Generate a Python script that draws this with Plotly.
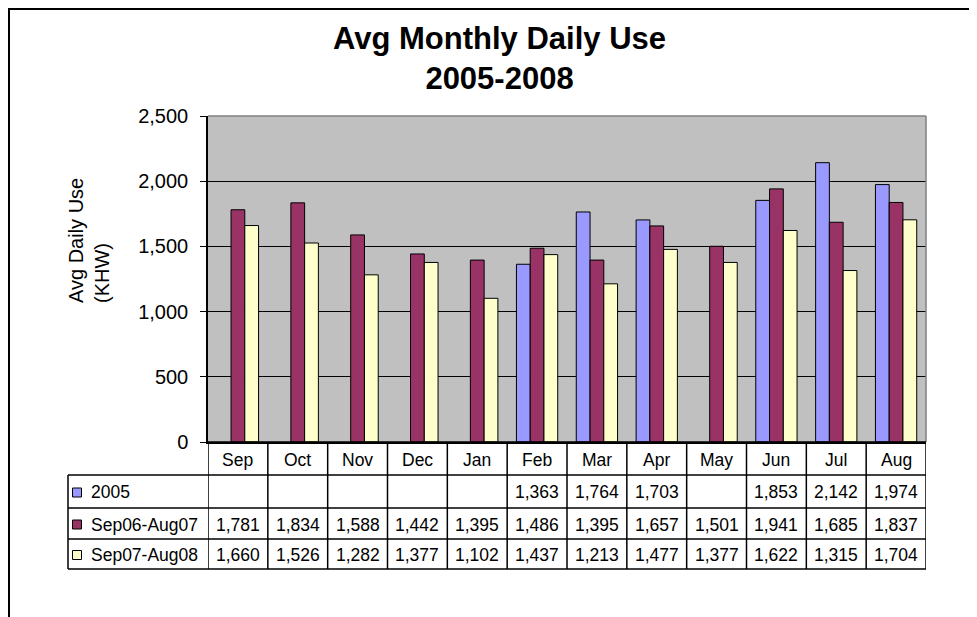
import plotly.graph_objects as go

months = ["Sep", "Oct", "Nov", "Dec", "Jan", "Feb", "Mar", "Apr", "May", "Jun", "Jul", "Aug"]
series_names = ["2005", "Sep06-Aug07", "Sep07-Aug08"]
use_2005 = [None, None, None, None, None, 1363, 1764, 1703, None, 1853, 2142, 1974]
use_0607 = [1781, 1834, 1588, 1442, 1395, 1486, 1395, 1657, 1501, 1941, 1685, 1837]
use_0708 = [1660, 1526, 1282, 1377, 1102, 1437, 1213, 1477, 1377, 1622, 1315, 1704]
y_ticks = [0, 500, 1000, 1500, 2000, 2500]

colors = ["#9999FF", "#993366", "#FFFFCC"]
all_series = [use_2005, use_0607, use_0708]

W, H = 977, 617
OFF = 8  # page body margin: screen position = figure position + 8
# plot area in screen pixels
L, R, T, B = 208, 926, 116, 442
FONT = "Arial, Liberation Sans, sans-serif"


def px(x):
    return (x - L) / (R - L)


def py(y):
    return (B - y) / (B - T)


fig = go.Figure()
for name, vals, col in zip(series_names, all_series, colors):
    fig.add_trace(go.Bar(
        x=months, y=vals, name=name,
        marker=dict(color=col, line=dict(color="black", width=1)),
        hoverinfo="x+y+name"
    ))

shapes = []
annotations = []

# outer chart frame (top/left edges visible)
shapes.append(dict(type="rect", xref="paper", yref="paper",
                   x0=px(OFF + 1), x1=px(1000), y0=py(OFF + 1), y1=py(660),
                   line=dict(color="black", width=2), layer="below"))
# plot area top/right border (gray)
shapes.append(dict(type="line", xref="paper", yref="paper", x0=0, x1=1, y0=1, y1=1,
                   line=dict(color="#808080", width=1.5)))
shapes.append(dict(type="line", xref="paper", yref="paper", x0=1, x1=1, y0=0, y1=1,
                   line=dict(color="#808080", width=1.5)))

# data table below the plot
row_edges = [442, 475, 508, 539, 569]
tline = dict(color="black", width=1.5)
for i, y in enumerate(row_edges):
    x0 = L if i == 0 else 68
    shapes.append(dict(type="line", xref="paper", yref="paper",
                       x0=px(x0), x1=1, y0=py(y), y1=py(y), line=tline))
for i in range(len(months) + 1):
    shapes.append(dict(type="line", xref="x", yref="paper",
                       x0=i - 0.5, x1=i - 0.5, y0=py(row_edges[0]), y1=py(row_edges[-1]),
                       line=tline))
shapes.append(dict(type="line", xref="paper", yref="paper",
                   x0=px(68), x1=px(68), y0=py(row_edges[1]), y1=py(row_edges[-1]),
                   line=tline))

cell_font = dict(family=FONT, size=17.5, color="black")
for i, m in enumerate(months):
    annotations.append(dict(x=m, y=py((row_edges[0] + row_edges[1]) / 2 + 1),
                            xref="x", yref="paper", text=m, showarrow=False,
                            font=cell_font, xanchor="center", yanchor="middle"))

for r, (name, vals, col) in enumerate(zip(series_names, all_series, colors)):
    yc = (row_edges[r + 1] + row_edges[r + 2]) / 2 + 1
    shapes.append(dict(type="rect", xref="paper", yref="paper",
                       x0=px(72.5), x1=px(81.5), y0=py(yc - 4.5), y1=py(yc + 4.5),
                       fillcolor=col, line=dict(color="black", width=1)))
    annotations.append(dict(x=px(89), y=py(yc), xref="paper", yref="paper",
                            text=name, showarrow=False, font=cell_font,
                            xanchor="left", yanchor="middle"))
    for m, v in zip(months, vals):
        if v is None:
            continue
        annotations.append(dict(x=m, y=py(yc), xref="x", yref="paper",
                                text=f"{v:,}", showarrow=False, font=cell_font,
                                xanchor="center", yanchor="middle"))

# title and axis title
annotations.append(dict(x=px(499), y=py(59), xref="paper", yref="paper",
                        text="<b>Avg Monthly Daily Use<br>2005-2008</b>", showarrow=False,
                        font=dict(family=FONT, size=31, color="black"),
                        xanchor="center", yanchor="middle"))
annotations.append(dict(x=px(89), y=py(241), xref="paper", yref="paper",
                        text="Avg Daily Use<br>(KHW)", showarrow=False, textangle=-90,
                        align="left", font=dict(family=FONT, size=20, color="black"),
                        xanchor="center", yanchor="middle"))

fig.update_layout(
    width=W, height=H,
    margin=dict(l=L - OFF, r=W - (R - OFF), t=T - OFF, b=H - (B - OFF)),
    paper_bgcolor="white", plot_bgcolor="#C0C0C0",
    barmode="group", bargap=0.31, bargroupgap=0,
    showlegend=False,
    shapes=shapes, annotations=annotations,
    font=dict(family=FONT, color="black"),
)
fig.update_xaxes(type="category", showticklabels=False, showgrid=False,
                 showline=True, linecolor="black", linewidth=1.5,
                 range=[-0.5, len(months) - 0.5], fixedrange=True)
fig.update_yaxes(range=[0, 2500], tickvals=y_ticks, tickformat=",",
                 showgrid=True, gridcolor="black", gridwidth=1,
                 showline=True, linecolor="black", linewidth=1.5,
                 ticks="outside", ticklen=6, tickcolor="black", tickwidth=1,
                 ticklabelstandoff=8, zeroline=False,
                 tickfont=dict(family=FONT, size=20, color="black"), fixedrange=True)

fig.write_html("out.html")
